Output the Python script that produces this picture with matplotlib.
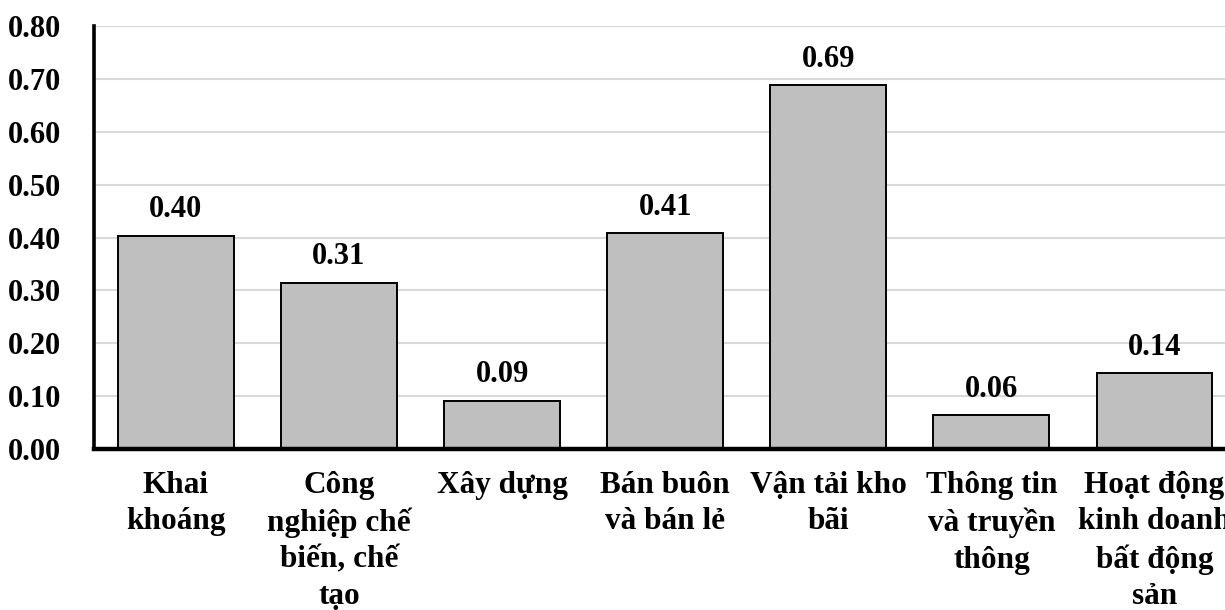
import matplotlib.pyplot as plt
import numpy as np

# Hệ số theo ngành
categories = [
    "Khai\nkhoáng",
    "Công\nnghiệp chế\nbiến, chế\ntạo",
    "Xây dựng",
    "Bán buôn\nvà bán lẻ",
    "Vận tải kho\nbãi",
    "Thông tin\nvà truyền\nthông",
    "Hoạt động\nkinh doanh\nbất động\nsản",
]
values = [0.403, 0.314, 0.091, 0.408, 0.688, 0.064, 0.143]
yticks = [0.0, 0.1, 0.2, 0.3, 0.4, 0.5, 0.6, 0.7, 0.8]

plt.rcParams['font.family'] = ['Liberation Serif', 'DejaVu Serif']
plt.rcParams['font.weight'] = 'bold'

fig = plt.figure(figsize=(12.25, 6.1), dpi=100)
ax = fig.add_axes([0.077, 0.264, 0.932, 0.693])

x = np.arange(len(categories))
ax.bar(x, values, width=0.71, color='#BFBFBF', edgecolor='black', linewidth=1.4, zorder=3)

for xi, v in zip(x, values):
    ax.text(xi, v + 0.022, f"{v:.2f}", ha='center', va='bottom',
            fontsize=22, fontweight='bold', zorder=4)

ax.set_xlim(-0.5, 6.5)
ax.set_ylim(0, 0.8)
ax.set_yticks(yticks)
ax.set_yticklabels([f"{t:.2f}" for t in yticks], fontsize=22, fontweight='bold')
ax.set_xticks(x)
ax.set_xticklabels(categories, fontsize=22.5, fontweight='bold', linespacing=1.33, va='top')

ax.tick_params(axis='y', length=0, pad=24)
ax.tick_params(axis='x', length=0, pad=16)
ax.grid(axis='y', color='#D9D9D9', linewidth=1.5, zorder=0)
ax.set_axisbelow(True)

for side in ['top', 'right']:
    ax.spines[side].set_visible(False)
ax.spines['left'].set_linewidth(2.6)
ax.spines['bottom'].set_linewidth(3.2)
ax.spines['bottom'].set_zorder(5)

fig.savefig('out.png', dpi=100)
